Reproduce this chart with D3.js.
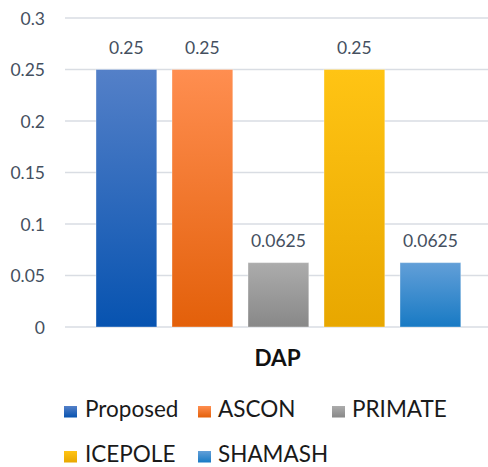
<!DOCTYPE html>
<html>
<head>
<meta charset="utf-8">
<script src="https://cdn.jsdelivr.net/npm/d3@7"></script>
<style>
  html, body { margin: 0; padding: 0; background: #fff; }
  svg { display: block; }
</style>
</head>
<body>
<svg id="chart" width="488" height="467"></svg>
<script>
// DAP values per scheme
const schemes = ["Proposed", "ASCON", "PRIMATE", "ICEPOLE", "SHAMASH"];
const dapValues = [0.25, 0.25, 0.0625, 0.25, 0.0625];
const dataLabels = ["0.25", "0.25", "0.0625", "0.25", "0.0625"];
const yTicks = [0, 0.05, 0.1, 0.15, 0.2, 0.25, 0.3];
const yTickLabels = ["0", "0.05", "0.1", "0.15", "0.2", "0.25", "0.3"];
const categoryLabel = "DAP";

// gradient stops (top, bottom) for each series
const gradTop = ["#5480c8", "#ff8e50", "#acacac", "#ffc414", "#629fd8"];
const gradBottom = ["#0753b0", "#e3600a", "#888888", "#e8a700", "#187ac4"];

const svg = d3.select("#chart");
const fontFamily = "Lato, 'Open Sans', sans-serif";

const y = d3.scaleLinear().domain([0, 0.3]).range([327, 18]);
const x = d3.scaleBand().domain(schemes).range([88.4, 468.4]).paddingInner(0.2).paddingOuter(0.1);

const defs = svg.append("defs");
schemes.forEach((s, i) => {
  const g = defs.append("linearGradient")
    .attr("id", "grad" + i)
    .attr("x1", 0).attr("y1", 0).attr("x2", 0).attr("y2", 1);
  g.append("stop").attr("offset", "0%").attr("stop-color", gradTop[i]);
  g.append("stop").attr("offset", "100%").attr("stop-color", gradBottom[i]);
});

// gridlines
svg.append("g").selectAll("line")
  .data(yTicks)
  .join("line")
  .attr("x1", 65).attr("x2", 488)
  .attr("y1", d => y(d)).attr("y2", d => y(d))
  .attr("stroke", "#d9dde3")
  .attr("stroke-width", 1.5);

// y axis labels
const yAxis = d3.axisLeft(y)
  .tickValues(yTicks)
  .tickFormat((d, i) => yTickLabels[i])
  .tickSize(0)
  .tickPadding(0);
const ya = svg.append("g").attr("transform", "translate(45,0)").call(yAxis);
ya.select(".domain").remove();
ya.selectAll("text")
  .attr("font-family", fontFamily)
  .attr("font-size", 17.5)
  .attr("fill", "#45505f")
  .attr("dy", "0.36em");

// bars
svg.append("g").selectAll("rect")
  .data(schemes)
  .join("rect")
  .attr("x", d => x(d))
  .attr("width", x.bandwidth())
  .attr("y", (d, i) => y(dapValues[i]))
  .attr("height", (d, i) => y(0) - y(dapValues[i]))
  .attr("fill", (d, i) => `url(#grad${i})`)
  .attr("stroke", "rgba(255,255,255,0.35)")
  .attr("stroke-width", 1);

// value labels
svg.append("g").selectAll("text")
  .data(schemes)
  .join("text")
  .attr("x", d => x(d) + x.bandwidth() / 2)
  .attr("y", (d, i) => y(dapValues[i]) - 16)
  .attr("text-anchor", "middle")
  .attr("font-family", fontFamily)
  .attr("font-size", 17.5)
  .attr("fill", "#45505f")
  .text((d, i) => dataLabels[i]);

// category label
svg.append("text")
  .attr("x", 277.5)
  .attr("y", 366)
  .attr("text-anchor", "middle")
  .attr("font-family", fontFamily)
  .attr("font-weight", "bold")
  .attr("font-size", 22.5)
  .attr("fill", "#111")
  .text(categoryLabel);

// legend
const legendPos = [
  { sx: 64, tx: 85, y: 417 },
  { sx: 198, tx: 218, y: 417 },
  { sx: 332, tx: 352, y: 417 },
  { sx: 64, tx: 85, y: 462 },
  { sx: 198, tx: 218, y: 462 }
];
const legend = svg.append("g");
schemes.forEach((s, i) => {
  const p = legendPos[i];
  legend.append("rect")
    .attr("x", p.sx).attr("y", p.y - 11)
    .attr("width", 13).attr("height", 11.5)
    .attr("fill", `url(#grad${i})`);
  legend.append("text")
    .attr("x", p.tx).attr("y", p.y)
    .attr("font-family", fontFamily)
    .attr("font-size", 22.5)
    .attr("fill", "#1a1a1a")
    .text(s);
});
</script>
</body>
</html>
